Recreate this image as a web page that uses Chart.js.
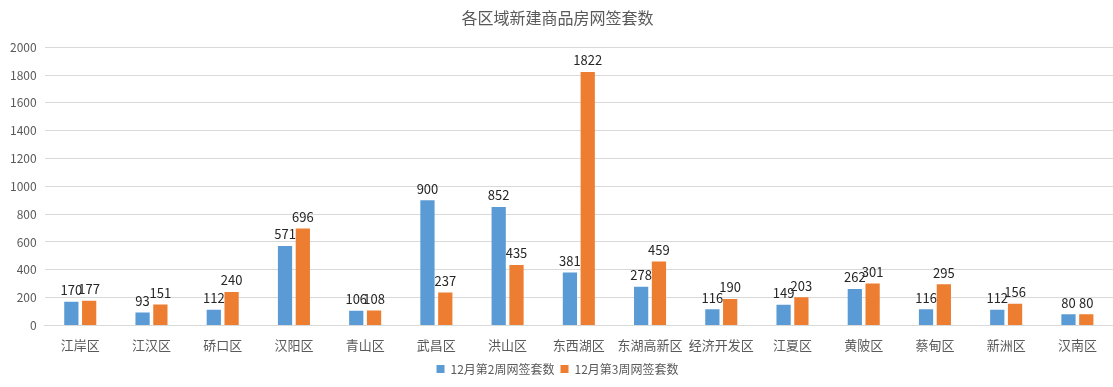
<!DOCTYPE html>
<html>
<head>
<meta charset="utf-8">
<script src="https://cdn.jsdelivr.net/npm/chart.js@4"></script>
<style>
  html, body { margin: 0; padding: 0; background: #fff; }
  #wrap { width: 1113px; height: 387px; position: relative; }
</style>
</head>
<body>
<div id="wrap"><canvas id="chart"></canvas></div>
<script>
// 各区域新建商品房网签套数
const districts = ['江岸区', '江汉区', '硚口区', '汉阳区', '青山区', '武昌区', '洪山区', '东西湖区',
  '东湖高新区', '经济开发区', '江夏区', '黄陂区', '蔡甸区', '新洲区', '汉南区'];
const week2 = [170, 93, 112, 571, 106, 900, 852, 381, 278, 116, 149, 262, 116, 112, 80];
const week3 = [177, 151, 240, 696, 108, 237, 435, 1822, 459, 190, 203, 301, 295, 156, 80];
const seriesNames = ['12月第2周网签套数', '12月第3周网签套数'];

const FONT = '"Noto Sans CJK SC", "Noto Sans", sans-serif';
const GREY = '#595959';

// 柱顶数值标签
const valueLabels = {
  id: 'valueLabels',
  afterDatasetsDraw(chart) {
    const ctx = chart.ctx;
    ctx.save();
    ctx.fillStyle = '#262626';
    ctx.font = '13px ' + FONT;
    ctx.textAlign = 'center';
    ctx.textBaseline = 'bottom';
    chart.data.datasets.forEach((ds, i) => {
      chart.getDatasetMeta(i).data.forEach((bar, j) => {
        ctx.fillText(ds.data[j], bar.x, bar.y - 5);
      });
    });
    ctx.restore();
  }
};

new Chart(document.getElementById('chart'), {
  type: 'bar',
  data: {
    labels: districts,
    datasets: [
      { label: seriesNames[0], data: week2, backgroundColor: '#5B9BD5' },
      { label: seriesNames[1], data: week3, backgroundColor: '#ED7D31' }
    ]
  },
  options: {
    responsive: true,
    maintainAspectRatio: false,
    animation: false,
    datasets: { bar: { categoryPercentage: 0.5, barPercentage: 0.8 } },
    layout: { padding: { left: 2, right: 0, top: 4, bottom: 2 } },
    plugins: {
      title: {
        display: true,
        text: '各区域新建商品房网签套数',
        color: GREY,
        font: { family: FONT, size: 16, weight: 'normal' },
        padding: { top: 4, bottom: 20 }
      },
      legend: {
        position: 'bottom',
        labels: {
          color: GREY,
          font: { family: FONT, size: 12 },
          boxWidth: 8,
          boxHeight: 8,
          padding: 6
        }
      },
      tooltip: { enabled: false }
    },
    scales: {
      x: {
        grid: { display: false },
        border: { color: '#d9d9d9' },
        ticks: { color: GREY, font: { family: FONT, size: 13 }, maxRotation: 0, autoSkip: false, padding: 4 }
      },
      y: {
        min: 0,
        max: 2000,
        grid: { color: '#d9d9d9', drawTicks: false },
        border: { display: false },
        ticks: {
          stepSize: 200,
          color: GREY,
          font: { family: FONT, size: 12 },
          padding: 8,
          callback: v => String(v)
        }
      }
    }
  },
  plugins: [valueLabels]
});
</script>
</body>
</html>
